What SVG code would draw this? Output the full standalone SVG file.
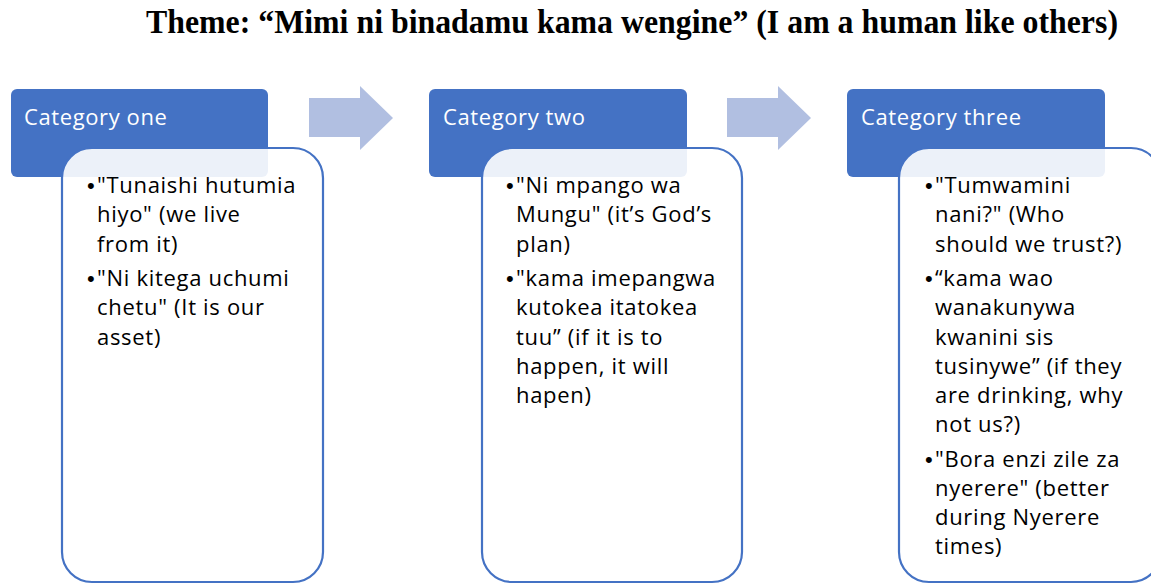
<svg xmlns="http://www.w3.org/2000/svg" width="1151" height="584" viewBox="0 0 1151 584">
<style>
.title{font-family:"Liberation Serif",serif;font-weight:bold;font-size:30px;fill:#000}
.hdr{fill:#4472C4}
.hdrt{font-family:"Open Sans","Noto Sans",sans-serif;font-size:22px;letter-spacing:0.6px;fill:#fff}
.card{fill:#fff;fill-opacity:0.9;stroke:#4472C4;stroke-width:2.2}
.body{font-family:"Open Sans","Noto Sans",sans-serif;font-size:22px;letter-spacing:0.7px;fill:#000}
.bul{font-family:"Liberation Sans",sans-serif;font-size:22px;letter-spacing:0}
.arrow{fill:#B1BFE1}
</style>
<rect width="1151" height="584" fill="#fff"/>
<text class="title" transform="scale(1,1.1)" x="146" y="30" textLength="972" lengthAdjust="spacingAndGlyphs">Theme: “Mimi ni binadamu kama wengine” (I am a human like others)</text>
<g id="connectors">
<polygon class="arrow" points="309,98 360,98 360,86 393,118 360,150 360,137 309,137"/>
<polygon class="arrow" points="727,98 778,98 778,86 811,118 778,150 778,137 727,137"/>
</g>
<g id="cat1">
<rect class="hdr" x="11" y="89" width="257" height="88" rx="6"/>
<text class="hdrt" x="24" y="125">Category one</text>
<rect class="card" x="62" y="148" width="261" height="434" rx="30"/>
<text class="body">
<tspan class="bul" x="87" y="193">•</tspan><tspan x="97" y="193">"Tunaishi hutumia</tspan>
<tspan x="97" y="222">hiyo" (we live</tspan>
<tspan x="97" y="252">from it)</tspan>
<tspan class="bul" x="87" y="286">•</tspan><tspan x="97" y="286">"Ni kitega uchumi</tspan>
<tspan x="97" y="315">chetu" (It is our</tspan>
<tspan x="97" y="345">asset)</tspan>
</text>
</g>
<g id="cat2">
<rect class="hdr" x="429" y="89" width="258" height="88" rx="6"/>
<text class="hdrt" x="443" y="125">Category two</text>
<rect class="card" x="482" y="148" width="260" height="434" rx="30"/>
<text class="body">
<tspan class="bul" x="506" y="193">•</tspan><tspan x="516" y="193">"Ni mpango wa</tspan>
<tspan x="516" y="222">Mungu" (it’s God’s</tspan>
<tspan x="516" y="252">plan)</tspan>
<tspan class="bul" x="506" y="286">•</tspan><tspan x="516" y="286">"kama imepangwa</tspan>
<tspan x="516" y="315">kutokea itatokea</tspan>
<tspan x="516" y="345">tuu” (if it is to</tspan>
<tspan x="516" y="374">happen, it will</tspan>
<tspan x="516" y="403">hapen)</tspan>
</text>
</g>
<g id="cat3">
<rect class="hdr" x="847" y="89" width="258" height="88" rx="6"/>
<text class="hdrt" x="861" y="125">Category three</text>
<rect class="card" x="899" y="148" width="262" height="434" rx="30"/>
<text class="body">
<tspan class="bul" x="925" y="193">•</tspan><tspan x="935" y="193">"Tumwamini</tspan>
<tspan x="935" y="222">nani?" (Who</tspan>
<tspan x="935" y="252">should we trust?)</tspan>
<tspan class="bul" x="925" y="286">•</tspan><tspan x="935" y="286">“kama wao</tspan>
<tspan x="935" y="315">wanakunywa</tspan>
<tspan x="935" y="345">kwanini sis</tspan>
<tspan x="935" y="374">tusinywe” (if they</tspan>
<tspan x="935" y="403">are drinking, why</tspan>
<tspan x="935" y="432">not us?)</tspan>
<tspan class="bul" x="925" y="467">•</tspan><tspan x="935" y="467">"Bora enzi zile za</tspan>
<tspan x="935" y="496">nyerere" (better</tspan>
<tspan x="935" y="525">during Nyerere</tspan>
<tspan x="935" y="554">times)</tspan>
</text>
</g>
</svg>
